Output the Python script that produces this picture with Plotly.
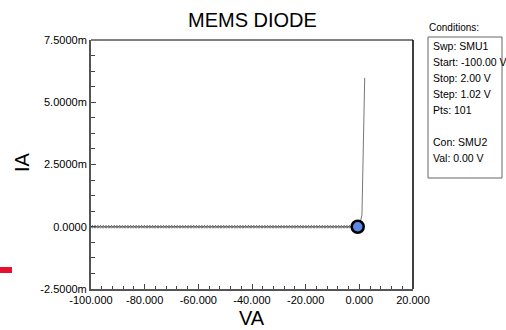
import plotly.graph_objects as go

# ---- data ----
voltage = [-100.00, -98.98, -97.96, -96.94, -95.92, -94.90, -93.88, -92.86, -91.84, -90.82,
           -89.80, -88.78, -87.76, -86.74, -85.72, -84.70, -83.68, -82.66, -81.64, -80.62,
           -79.60, -78.58, -77.56, -76.54, -75.52, -74.50, -73.48, -72.46, -71.44, -70.42,
           -69.40, -68.38, -67.36, -66.34, -65.32, -64.30, -63.28, -62.26, -61.24, -60.22,
           -59.20, -58.18, -57.16, -56.14, -55.12, -54.10, -53.08, -52.06, -51.04, -50.02,
           -49.00, -47.98, -46.96, -45.94, -44.92, -43.90, -42.88, -41.86, -40.84, -39.82,
           -38.80, -37.78, -36.76, -35.74, -34.72, -33.70, -32.68, -31.66, -30.64, -29.62,
           -28.60, -27.58, -26.56, -25.54, -24.52, -23.50, -22.48, -21.46, -20.44, -19.42,
           -18.40, -17.38, -16.36, -15.34, -14.32, -13.30, -12.28, -11.26, -10.24, -9.22,
           -8.20, -7.18, -6.16, -5.14, -4.12, -3.10, -2.08, -1.06, -0.04, 0.98, 2.00]
current = [0.0] * 99 + [0.48e-3, 5.98e-3]

cursor_v = [-0.6]
cursor_i = [0.0]

x_tickvals = [-100, -80, -60, -40, -20, 0, 20]
x_ticktext = ["-100.000", "-80.000", "-60.000", "-40.000", "-20.000", "0.000", "20.000"]
y_tickvals = [-2.5e-3, 0.0, 2.5e-3, 5.0e-3, 7.5e-3]
y_ticktext = ["-2.5000m", "0.0000", "2.5000m", "5.0000m", "7.5000m"]

title_text = "MEMS DIODE"
x_title = "VA"
y_title = "IA"
conditions_title = "Conditions:"
conditions_lines = ["Swp: SMU1", "Start: -100.00 V", "Stop: 2.00 V", "Step: 1.02 V",
                    "Pts: 101", "", "Con: SMU2", "Val: 0.00 V"]

# ---- layout geometry (pixels) ----
W, H = 506, 330
L, R, T, B = 91, 413, 40, 289
FONT = "Liberation Sans, Arial, sans-serif"

def px(x):
    return (x - L) / (R - L)

def py(y):
    return (B - y) / (B - T)

fig = go.Figure()

# flat + rising trace
fig.add_trace(go.Scatter(
    x=voltage[:99], y=current[:99], mode="lines+markers",
    line=dict(color="#666666", width=1),
    marker=dict(symbol="x-thin", size=3, line=dict(color="#555555", width=0.8)),
    showlegend=False, hoverinfo="skip"))
fig.add_trace(go.Scatter(
    x=voltage[98:], y=current[98:], mode="lines",
    line=dict(color="#777777", width=1),
    showlegend=False, hoverinfo="skip"))
# cursor marker
fig.add_trace(go.Scatter(
    x=cursor_v, y=cursor_i, mode="markers",
    marker=dict(symbol="circle", size=12, color="#5b8ae6",
                line=dict(color="#000000", width=2.5)),
    showlegend=False, hoverinfo="skip"))

fig.update_layout(
    width=W, height=H,
    margin=dict(l=L, r=W - R, t=T, b=H - B, pad=0, autoexpand=False),
    paper_bgcolor="white", plot_bgcolor="white",
    font=dict(family=FONT, size=11, color="#000000"),
    showlegend=False,
    xaxis=dict(
        range=[-100, 20], tickvals=x_tickvals, ticktext=x_ticktext,
        ticks="inside", ticklen=5, tickwidth=1, tickcolor="#444444",
        minor=dict(ticks="inside", ticklen=3, dtick=4, tickcolor="#444444", showgrid=False),
        showline=True, linecolor="#555555", linewidth=2,
        showgrid=False, zeroline=False, automargin=False,
        tickfont=dict(size=11, family=FONT),
    ),
    yaxis=dict(
        range=[-2.5e-3, 7.5e-3], tickvals=y_tickvals, ticktext=y_ticktext,
        ticks="inside", ticklen=5, tickwidth=1, tickcolor="#444444",
        minor=dict(ticks="inside", ticklen=4, dtick=0.625e-3, tickcolor="#444444", showgrid=False),
        showline=True, linecolor="#555555", linewidth=2,
        showgrid=False, zeroline=False, automargin=False,
        tickfont=dict(size=11, family=FONT),
    ),
)

shapes = [
    # frame top/right
    dict(type="line", xref="paper", yref="paper", x0=0, x1=1, y0=1, y1=1,
         line=dict(color="#000000", width=1)),
    dict(type="line", xref="paper", yref="paper", x0=1, x1=1, y0=0, y1=1,
         line=dict(color="#000000", width=1.5)),
    # conditions box
    dict(type="rect", xref="paper", yref="paper",
         x0=px(428), x1=px(502), y0=py(178), y1=py(37),
         line=dict(color="#666666", width=1), fillcolor="white"),
    # red mark at left
    dict(type="rect", xref="paper", yref="paper",
         x0=px(0), x1=px(12), y0=py(273), y1=py(267),
         line=dict(width=0), fillcolor="#e8102f"),
]
fig.update_layout(shapes=shapes)

annotations = [
    dict(text=title_text, xref="paper", yref="paper", x=px(252), y=py(20),
         xanchor="center", yanchor="middle", showarrow=False,
         font=dict(size=20, family=FONT, color="#000000")),
    dict(text=x_title, xref="paper", yref="paper", x=px(252), y=py(318),
         xanchor="center", yanchor="middle", showarrow=False,
         font=dict(size=20, family=FONT, color="#000000")),
    dict(text=y_title, xref="paper", yref="paper", x=px(22), y=py(162),
         xanchor="center", yanchor="middle", showarrow=False, textangle=-90,
         font=dict(size=20, family=FONT, color="#000000")),
    dict(text=conditions_title, xref="paper", yref="paper", x=px(427), y=py(27),
         xanchor="left", yanchor="middle", showarrow=False,
         font=dict(size=10, family=FONT, color="#000000")),
]
line_y0, line_dy = 46, 16
for k, s in enumerate(conditions_lines):
    if not s:
        continue
    annotations.append(dict(
        text=s, xref="paper", yref="paper", x=px(431), y=py(line_y0 + k * line_dy),
        xanchor="left", yanchor="middle", showarrow=False,
        font=dict(size=10.5, family=FONT, color="#000000")))
fig.update_layout(annotations=annotations)

fig.write_html("out.html", config={"displayModeBar": False},
               post_script="document.body.style.margin='0';")
